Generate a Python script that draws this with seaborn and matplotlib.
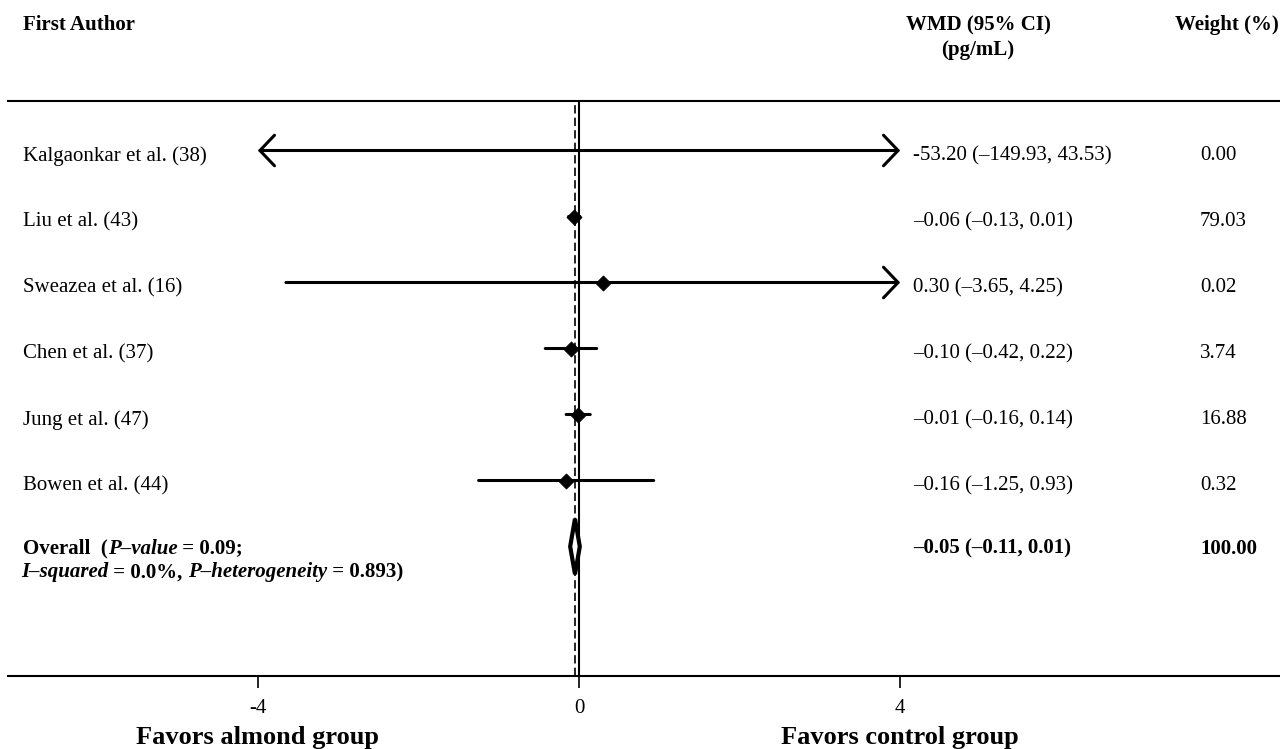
import numpy as np
import pandas as pd
import matplotlib
matplotlib.use("Agg")
import matplotlib.pyplot as plt
import seaborn as sns
from matplotlib.transforms import blended_transform_factory
from matplotlib.patches import Polygon

# ---------------- data ----------------
studies = ["Kalgaonkar et al. (38)", "Liu et al. (43)", "Sweazea et al. (16)",
           "Chen et al. (37)", "Jung et al. (47)", "Bowen et al. (44)"]
wmd = [-53.20, -0.06, 0.30, -0.10, -0.01, -0.16]
ci_low = [-149.93, -0.13, -3.65, -0.42, -0.16, -1.25]
ci_high = [43.53, 0.01, 4.25, 0.22, 0.14, 0.93]
ci_labels = ["-53.20 (\u2013149.93, 43.53)", "\u20130.06 (\u20130.13, 0.01)",
             "0.30 (\u20133.65, 4.25)", "\u20130.10 (\u20130.42, 0.22)",
             "\u20130.01 (\u20130.16, 0.14)", "\u20130.16 (\u20131.25, 0.93)"]
weights = ["0.00", "79.03", "0.02", "3.74", "16.88", "0.32"]

overall_est = -0.05
overall_low = -0.11
overall_high = 0.01
overall_label = "\u20130.05 (\u20130.11, 0.01)"
overall_weight = "100.00"

xticks = [-4, 0, 4]
xtick_labels = ["-4", "0", "4"]
display_limit = 4.0  # CI clipped to +/- this value with arrows

# ---------------- style ----------------
sns.set_theme(style="white")
plt.rcParams["font.family"] = ["Liberation Serif", "DejaVu Serif"]
plt.rcParams["text.color"] = "black"
plt.rcParams["axes.labelcolor"] = "black"
plt.rcParams["xtick.color"] = "black"
plt.rcParams["xtick.labelcolor"] = "black"

W, H = 1280, 749
fig = plt.figure(figsize=(W / 100, H / 100), dpi=100)
ax_left_px, ax_top_px, ax_bot_px = 8, 101, 676
ax = fig.add_axes([ax_left_px / W, (H - ax_bot_px) / H,
                   (W - ax_left_px) / W, (ax_bot_px - ax_top_px) / H])

# x scale: 0 at px 579, 80.3 px per unit
x0_px, ppu = 579.0, 80.3
ax.set_xlim((ax_left_px - x0_px) / ppu, (W - x0_px) / ppu)
# rows: row i centred at px 150.5 + 66 i
r0_px, rpx = 150.5, 66.0
ax.set_ylim((ax_bot_px - r0_px) / rpx, (ax_top_px - r0_px) / rpx)

df = pd.DataFrame({"study": studies, "wmd": wmd, "lo": ci_low, "hi": ci_high,
                   "row": np.arange(len(studies))})
overall_row = len(studies)

# reference lines
ax.axvline(0, color="black", lw=1.5, zorder=1)
ax.axvline(overall_est, color="black", lw=1.2, dashes=(5, 2.5), zorder=1)

# CI lines with arrows when clipped
for _, r in df.iterrows():
    lo = max(r.lo, -display_limit)
    hi = min(r.hi, display_limit)
    left_arrow = r.lo < -display_limit
    right_arrow = r.hi > display_limit
    if left_arrow and right_arrow:
        style = "<->"
    elif right_arrow:
        style = "->"
    elif left_arrow:
        style = "<-"
    else:
        style = "-"
    astyle = style + ",head_length=1.05,head_width=1.1" if style != "-" else "-"
    ax.annotate("", xy=(hi, r.row), xytext=(lo, r.row),
                arrowprops=dict(arrowstyle=astyle, lw=2.2, color="black",
                                shrinkA=0, shrinkB=0, mutation_scale=10), zorder=2)

vis = df[(df.wmd >= -display_limit) & (df.wmd <= display_limit)]
sns.scatterplot(data=vis, x="wmd", y="row", marker="D", s=60, color="black",
                edgecolor="black", linewidth=0.5, ax=ax, zorder=3, legend=False)

# overall diamond
h = 0.42
diamond = Polygon([(overall_low, overall_row), (overall_est, overall_row - h),
                   (overall_high, overall_row), (overall_est, overall_row + h)],
                  closed=True, facecolor="white", edgecolor="black", lw=3.0,
                  joinstyle="miter", zorder=4)
ax.add_patch(diamond)

# axes styling
for s in ["left", "right"]:
    ax.spines[s].set_visible(False)
for s in ["top", "bottom"]:
    ax.spines[s].set_visible(True)
    ax.spines[s].set_linewidth(1.5)
    ax.spines[s].set_color("black")
ax.set_xticks(xticks)
ax.set_xticklabels(xtick_labels)
ax.set_yticks([])
ax.tick_params(axis="x", direction="out", length=8.6, width=1.2, pad=8,
               labelsize=15, colors="black", bottom=True, top=False)
ax.set_xlabel("")
ax.set_ylabel("")
ax.grid(False)

# text columns
tr = blended_transform_factory(fig.transFigure, ax.transData)
base_off = 10 / rpx
fs = 15
name_x = 23 / W
ci_x = 913 / W
wt_x = 1200 / W
for i, (nm, lab, wt) in enumerate(zip(studies, ci_labels, weights)):
    ax.text(name_x, i + base_off, nm, transform=tr, fontsize=fs, va="baseline", ha="left")
    ax.text(ci_x, i + base_off, lab, transform=tr, fontsize=fs, va="baseline", ha="left")
    ax.text(wt_x, i + base_off, wt, transform=tr, fontsize=fs, va="baseline", ha="left")

ov_off = 7 / rpx
ax.text(ci_x, overall_row + ov_off, overall_label, transform=tr, fontsize=fs,
        va="baseline", ha="left", fontweight="bold")
ax.text(wt_x, overall_row + ov_off, overall_weight, transform=tr, fontsize=fs,
        va="baseline", ha="left", fontweight="bold")

# overall label with mixed bold / bold-italic pieces
def chain(pieces, x, y):
    prev = None
    for txt, italic in pieces:
        kw = dict(fontsize=fs, fontweight="bold",
                  fontstyle="italic" if italic else "normal")
        if prev is None:
            prev = ax.text(x, y, txt, transform=tr, va="baseline", ha="left", **kw)
        else:
            prev = ax.annotate(txt, xy=(1, 0), xycoords=prev, va="bottom",
                               ha="left", **kw)

chain([("Overall  (", False), ("P\u2013value", True), (" = 0.09;", False)],
      name_x, overall_row + ov_off)
chain([("I\u2013squared", True), (" = 0.0%, ", False), ("P\u2013heterogeneity", True),
       (" = 0.893)", False)], 21 / W, overall_row + ov_off + 24 / rpx)

# headers
fig.text(23 / W, 1 - 30 / H, "First Author", fontsize=fs, fontweight="bold",
         va="baseline", ha="left")
fig.text(978 / W, 1 - 30 / H, "WMD (95% CI)", fontsize=fs, fontweight="bold",
         va="baseline", ha="center")
fig.text(978 / W, 1 - 55 / H, "(pg/mL)", fontsize=fs, fontweight="bold",
         va="baseline", ha="center")
fig.text(1279 / W, 1 - 30 / H, "Weight (%)", fontsize=fs, fontweight="bold",
         va="baseline", ha="right")

# favors labels under +/-4 ticks
trb = blended_transform_factory(ax.transData, fig.transFigure)
ax.text(xticks[0], 1 - 744 / H, "Favors almond group", transform=trb, fontsize=19,
        fontweight="bold", ha="center", va="baseline")
ax.text(xticks[-1], 1 - 744 / H, "Favors control group", transform=trb, fontsize=19,
        fontweight="bold", ha="center", va="baseline")

fig.savefig("out.png", dpi=100)
